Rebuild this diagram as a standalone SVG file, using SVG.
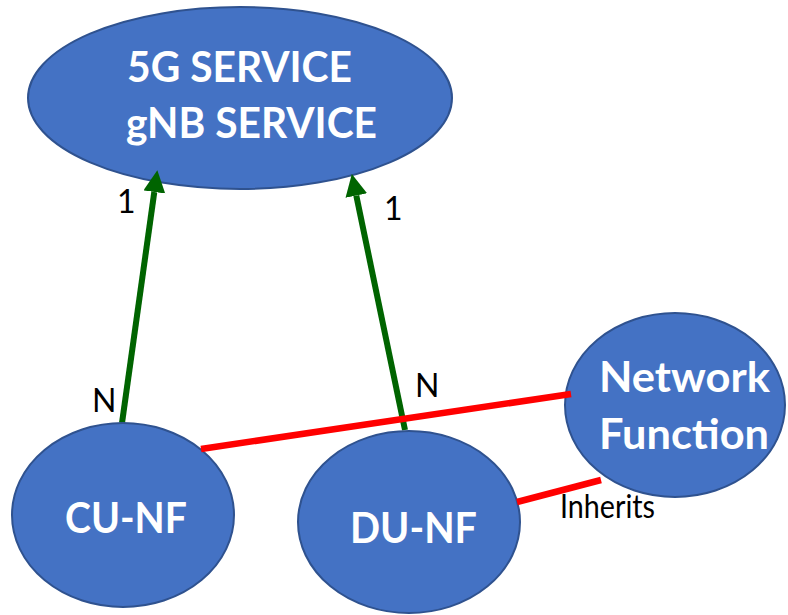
<svg xmlns="http://www.w3.org/2000/svg" width="788" height="615" viewBox="0 0 788 615">
<style>
.node{fill:#4472C4;stroke:#2F528F;stroke-width:2}
.ntxt{font-family:Lato,"Open Sans","Liberation Sans",sans-serif;font-weight:bold;fill:#FFFFFF;text-anchor:middle;font-size:42px}
.lbl{font-family:Lato,"Open Sans","Liberation Sans",sans-serif;fill:#000000;font-size:32px}
.assoc{stroke:#006400;stroke-width:6;fill:none}
.inh{stroke:#FF0000;stroke-width:6.5;fill:none}
</style>
<defs>
<marker id="arr" markerUnits="userSpaceOnUse" markerWidth="24" markerHeight="24" refX="0" refY="11" orient="auto">
<path d="M0,0 L22,11 L0,22 z" fill="#006400"/>
</marker>
</defs>
<rect width="788" height="615" fill="#FFFFFF"/>
<g id="service">
<ellipse class="node" cx="240" cy="98" rx="212" ry="91"/>
<text class="ntxt" x="239.5" y="82" textLength="225" lengthAdjust="spacingAndGlyphs">5G SERVICE</text>
<text class="ntxt" x="251.5" y="138" textLength="251" lengthAdjust="spacingAndGlyphs">gNB SERVICE</text>
</g>
<g id="connectors-assoc">
<path class="assoc" d="M122,423 L154.3,192" marker-end="url(#arr)"/>
<path class="assoc" d="M405,430 L356.3,195.6" marker-end="url(#arr)"/>
</g>
<g id="cu-nf">
<ellipse class="node" cx="123" cy="515" rx="111" ry="92"/>
<text class="ntxt" x="126" y="533" font-size="40" textLength="122" lengthAdjust="spacingAndGlyphs">CU-NF</text>
</g>
<g id="du-nf">
<ellipse class="node" cx="409" cy="522" rx="111" ry="91"/>
<text class="ntxt" x="413.5" y="543" textLength="127" lengthAdjust="spacingAndGlyphs">DU-NF</text>
</g>
<g id="network-function">
<ellipse class="node" cx="675" cy="405" rx="110" ry="92"/>
<text class="ntxt" x="684.5" y="392" textLength="171" lengthAdjust="spacingAndGlyphs">Network</text>
<text class="ntxt" x="684" y="449" textLength="170" lengthAdjust="spacingAndGlyphs">Function</text>
</g>
<g id="connectors-inherit">
<line class="inh" x1="201" y1="449" x2="571" y2="394"/>
<line class="inh" x1="517" y1="502" x2="601" y2="480"/>
</g>
<g id="labels">
<text class="lbl" x="117" y="213">1</text>
<text class="lbl" x="384" y="220">1</text>
<text class="lbl" x="92" y="412">N</text>
<text class="lbl" x="415" y="397">N</text>
<text class="lbl" x="560" y="518" font-size="25" textLength="95" lengthAdjust="spacingAndGlyphs">Inherits</text>
</g>
</svg>
